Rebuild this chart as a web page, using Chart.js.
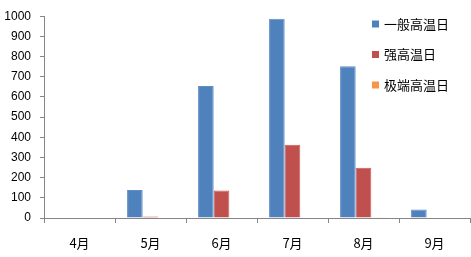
<!DOCTYPE html>
<html>
<head>
<meta charset="utf-8">
<script src="https://cdn.jsdelivr.net/npm/chart.js@4"></script>
<style>
  html, body { margin: 0; padding: 0; background: #fff; }
  #wrap { width: 471px; height: 257px; }
</style>
</head>
<body>
<div id="wrap"><canvas id="chart" width="471" height="257"></canvas></div>
<script>
// Months on the x axis
const months = ["4月", "5月", "6月", "7月", "8月", "9月"];

// Count of days for each kind of heat
const normalHot = [0, 139, 654, 987, 752, 42];
const strongHot = [0, 8, 136, 363, 249, 3];
const extremeHot = [0, 0, 0, 2, 1, 0];

// Series names and colours
const seriesNames = ["一般高温日", "强高温日", "极端高温日"];
const seriesColors = ["#4F81BD", "#C0504D", "#F79646"];
const edgeColors = ["#5C8DC8", "#C95C59", "#F79E58"];

const axisGray = "#868686";

// Legend drawn inside the plot, on the right
const sideLegend = {
    id: "sideLegend",
    afterDraw(chart) {
        const ctx = chart.ctx;
        ctx.save();
        ctx.font = "13px 'Noto Sans CJK SC'";
        ctx.textBaseline = "middle";
        chart.data.datasets.forEach((ds, i) => {
            const y = 24 + i * 30.5;
            ctx.fillStyle = ds.backgroundColor;
            ctx.fillRect(372, y - 3.5, 7, 7);
            ctx.fillStyle = "#000";
            ctx.fillText(ds.label, 384, y);
        });
        ctx.restore();
    },
};

const datasets = [normalHot, strongHot, extremeHot].map((values, i) => ({
    label: seriesNames[i],
    data: values,
    backgroundColor: seriesColors[i],
    borderColor: edgeColors[i],
    borderWidth: 1,
    categoryPercentage: 0.66,
    barPercentage: 1,
}));

new Chart(document.getElementById("chart"), {
    type: "bar",
    plugins: [sideLegend],
    data: { labels: months, datasets: datasets },
    options: {
        responsive: false,
        animation: false,
        layout: { padding: { top: 1, right: 1, left: 0, bottom: 0 } },
        plugins: {
            legend: { display: false },
            tooltip: { enabled: false },
        },
        scales: {
            x: {
                grid: {
                    offset: true,
                    drawOnChartArea: false,
                    drawTicks: true,
                    tickLength: 5,
                    color: axisGray,
                },
                border: { color: axisGray, width: 1 },
                ticks: {
                    color: "#000",
                    padding: 12,
                    font: { family: "'Noto Sans CJK SC'", size: 13 },
                },
                afterFit(scale) { scale.height = 39; },
            },
            y: {
                min: 0,
                max: 1000,
                ticks: {
                    stepSize: 100,
                    color: "#000",
                    padding: 9,
                    font: { family: "'Liberation Sans'", size: 12 },
                    callback: (v) => String(v),
                },
                grid: {
                    drawOnChartArea: false,
                    drawTicks: true,
                    tickLength: 4,
                    color: axisGray,
                },
                border: { color: axisGray, width: 1 },
                afterFit(scale) { scale.width = 44; },
            },
        },
    },
});
</script>
</body>
</html>
